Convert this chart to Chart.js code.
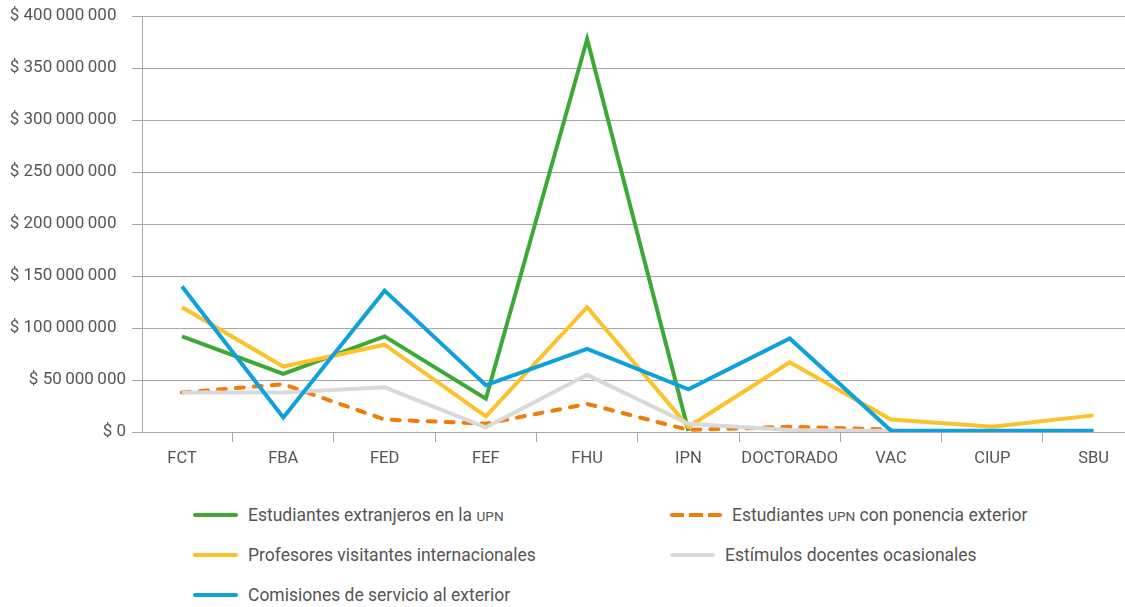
<!DOCTYPE html>
<html>
<head>
<meta charset="utf-8">
<script src="https://cdn.jsdelivr.net/npm/chart.js@4/dist/chart.umd.min.js"></script>
<style>
  html, body { margin: 0; padding: 0; background: #fff; overflow: hidden; }
  body { width: 1125px; height: 607px; position: relative; font-family: 'Roboto', Arial, sans-serif; color: #555; }
  #wrap { position: absolute; left: 0; top: 0; width: 1125px; height: 480px; }
  #legend { position: absolute; left: 193px; top: 495px; display: grid; grid-template-columns: 477px 400px; grid-auto-rows: 40px; font-size: 17.5px; }
  .item { display: flex; align-items: center; }
  .swatch { width: 45px; height: 4px; margin-right: 10px; border-radius: 2px; }
  .small { font-size: 0.78em; }
</style>
</head>
<body>
<div id="wrap"><canvas id="chart" width="1125" height="480"></canvas></div>
<div id="legend"></div>
<script>
// values (pesos)
const categories = ['FCT', 'FBA', 'FED', 'FEF', 'FHU', 'IPN', 'DOCTORADO', 'VAC', 'CIUP', 'SBU'];
const seriesNames = [
  'Estudiantes extranjeros en la UPN',
  'Estudiantes UPN con ponencia exterior',
  'Profesores visitantes internacionales',
  'Estímulos docentes ocasionales',
  'Comisiones de servicio al exterior'
];
const extranjeros = [92e6, 56e6, 92e6, 32e6, 378e6, 1e6, null, null, null, null];
const ponencia = [38e6, 46e6, 12e6, 8e6, 27e6, 2e6, 5e6, 2.5e6, null, null];
const visitantes = [120e6, 63e6, 84e6, 15e6, 120e6, 5e6, 67e6, 12e6, 5e6, 16e6];
const estimulos = [38e6, 38e6, 43e6, 4.5e6, 55e6, 8e6, 2e6, 1e6, null, null];
const comisiones = [140e6, 14e6, 136e6, 45e6, 80e6, 41e6, 90e6, 1.2e6, 1.2e6, 1.2e6];
const yMax = 400e6;
const yStep = 50e6;

const colors = ['#3ca934', '#f07c0c', '#fdc12a', '#d9d9d9', '#0ea1dd'];
const allValues = [extranjeros, ponencia, visitantes, estimulos, comisiones];

const FONT = "'Roboto', Arial, sans-serif";
const GRID = '#a6a6a6';

const toPoints = vals => vals.map((v, i) => ({ x: i, y: v }));

const datasets = allValues.map((vals, i) => ({
  label: seriesNames[i],
  data: toPoints(vals),
  borderColor: colors[i],
  backgroundColor: colors[i],
  borderWidth: 4,
  borderDash: i === 1 ? [8, 10] : [],
  borderCapStyle: i === 1 ? 'round' : 'butt',
  borderJoinStyle: 'miter',
  pointRadius: 0,
  tension: 0,
  spanGaps: false,
  order: allValues.length - i  // later series drawn on top, like Excel
}));

// tick positions: category centres + boundaries between them
const xTickValues = [];
for (let v = 0; v <= categories.length - 1; v += 0.5) xTickValues.push(v);

function fmtMoney(v) {
  if (v === 0) return '$ 0';
  const s = '$ ' + String(v).replace(/\B(?=(\d{3})+(?!\d))/g, '\u2009');
  // the original pushes the 9-digit labels a bit further left
  return v >= 100e6 ? s + '\u2007' : s;
}

new Chart(document.getElementById('chart'), {
  type: 'line',
  data: { datasets },
  options: {
    responsive: false,
    animation: false,
    layout: { padding: { top: 15, right: 0, left: 0, bottom: 0 } },
    plugins: { legend: { display: false }, tooltip: { enabled: false } },
    scales: {
      x: {
        type: 'linear',
        bounds: 'data',
        min: -0.395,
        max: 9.31,
        afterBuildTicks: scale => { scale.ticks = xTickValues.map(v => ({ value: v })); },
        afterFit: scale => { scale.height = 48; },
        border: { display: true, color: GRID, width: 1 },
        grid: {
          drawOnChartArea: false,
          drawTicks: true,
          tickLength: 10,
          tickColor: ctx => (ctx.tick && ctx.tick.value % 1 !== 0) ? GRID : 'rgba(0,0,0,0)',
          color: GRID
        },
        ticks: {
          autoSkip: false,
          maxRotation: 0,
          padding: 7,
          color: '#555',
          font: { family: FONT, size: 16.5 },
          callback: v => (v % 1 === 0 ? categories[v] : '')
        }
      },
      y: {
        min: 0,
        max: yMax,
        afterFit: scale => { scale.width = 142; },
        border: { display: true, color: GRID, width: 1 },
        grid: { color: GRID, lineWidth: 1, tickLength: 10, tickColor: GRID },
        ticks: {
          stepSize: yStep,
          padding: 6,
          color: '#555',
          font: { family: FONT, size: 17 },
          callback: v => fmtMoney(v)
        }
      }
    }
  }
});

// two-column legend like the original
const legend = document.getElementById('legend');
seriesNames.forEach((name, i) => {
  const item = document.createElement('div');
  item.className = 'item';
  const sw = document.createElement('span');
  sw.className = 'swatch';
  if (i === 1) {
    sw.style.width = '52px';
    sw.style.background = 'repeating-linear-gradient(90deg, ' + colors[i] + ' 0 14px, transparent 14px 19px)';
  } else {
    sw.style.background = colors[i];
  }
  const txt = document.createElement('span');
  txt.innerHTML = name.replace('UPN', '<span class="small">UPN</span>');
  item.appendChild(sw);
  item.appendChild(txt);
  legend.appendChild(item);
});
</script>
</body>
</html>
